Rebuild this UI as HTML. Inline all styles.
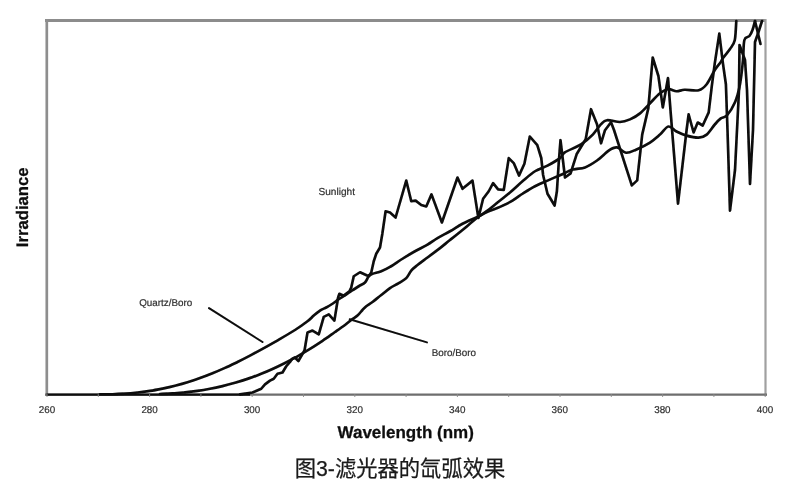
<!DOCTYPE html>
<html><head><meta charset="utf-8"><title>图3</title>
<style>
html,body{margin:0;padding:0;background:#fff;}
body{width:800px;height:496px;overflow:hidden;position:relative;font-family:"Liberation Sans","Noto Sans CJK SC",sans-serif;}
svg{position:absolute;left:0;top:0;}
.cap{position:absolute;left:0;width:800px;top:453.4px;text-align:center;font-size:21.3px;line-height:32px;color:#1a1a1a;-webkit-text-stroke:0.25px #1a1a1a;font-family:"Liberation Sans","Noto Sans CJK SC",sans-serif;}
</style></head><body>
<svg width="800" height="450" viewBox="0 0 800 450">
<defs><clipPath id="c"><rect x="46" y="19" width="721" height="378"/></clipPath>
<filter id="b" x="-5%" y="-5%" width="110%" height="110%"><feGaussianBlur stdDeviation="0.55"/></filter></defs>
<g filter="url(#b)">
<g fill="none">
<line x1="45" y1="20.5" x2="766" y2="20.5" stroke="#8c8c8c" stroke-width="3"/>
<line x1="46.8" y1="19" x2="46.8" y2="396" stroke="#8e8e8e" stroke-width="2.7"/>
<line x1="765.5" y1="19" x2="765.5" y2="396" stroke="#a0a0a0" stroke-width="2.2"/>
<line x1="45" y1="394.7" x2="767" y2="394.7" stroke="#6e6e6e" stroke-width="2.3"/>
<line x1="46.5" y1="394.6" x2="250" y2="394.6" stroke="#111" stroke-width="2.1"/>
<line x1="47.0" y1="394" x2="47.0" y2="397" stroke="#8a8a8a" stroke-width="0.9"/><line x1="98.3" y1="394" x2="98.3" y2="397" stroke="#8a8a8a" stroke-width="0.9"/><line x1="149.6" y1="394" x2="149.6" y2="397" stroke="#8a8a8a" stroke-width="0.9"/><line x1="200.9" y1="394" x2="200.9" y2="397" stroke="#8a8a8a" stroke-width="0.9"/><line x1="252.2" y1="394" x2="252.2" y2="397" stroke="#8a8a8a" stroke-width="0.9"/><line x1="303.5" y1="394" x2="303.5" y2="397" stroke="#8a8a8a" stroke-width="0.9"/><line x1="354.8" y1="394" x2="354.8" y2="397" stroke="#8a8a8a" stroke-width="0.9"/><line x1="406.1" y1="394" x2="406.1" y2="397" stroke="#8a8a8a" stroke-width="0.9"/><line x1="457.4" y1="394" x2="457.4" y2="397" stroke="#8a8a8a" stroke-width="0.9"/><line x1="508.7" y1="394" x2="508.7" y2="397" stroke="#8a8a8a" stroke-width="0.9"/><line x1="560.0" y1="394" x2="560.0" y2="397" stroke="#8a8a8a" stroke-width="0.9"/><line x1="611.3" y1="394" x2="611.3" y2="397" stroke="#8a8a8a" stroke-width="0.9"/><line x1="662.6" y1="394" x2="662.6" y2="397" stroke="#8a8a8a" stroke-width="0.9"/><line x1="713.9" y1="394" x2="713.9" y2="397" stroke="#8a8a8a" stroke-width="0.9"/><line x1="765.2" y1="394" x2="765.2" y2="397" stroke="#8a8a8a" stroke-width="0.9"/>
</g>
<g clip-path="url(#c)" fill="none" stroke="#0a0a0a" stroke-width="2.65" stroke-linejoin="round" stroke-linecap="round">
<path d="M100,394.212 C102.1,394.2 108.3,394.3 112.5,394.214 C116.7,394.1 120.8,393.9 125,393.664 C129.2,393.4 133.3,393.0 137.5,392.551 C141.7,392.1 145.8,391.5 150,390.859 C154.2,390.2 158.3,389.4 162.5,388.578 C166.7,387.7 170.8,386.8 175,385.695 C179.2,384.6 183.3,383.5 187.5,382.195 C191.7,380.9 195.8,379.6 200,378.068 C204.2,376.6 208.3,375.0 212.5,373.3 C216.7,371.6 220.8,369.8 225,367.909 C229.2,366.0 233.3,364.0 237.5,361.978 C241.7,359.9 245.8,357.8 250,355.603 C254.2,353.4 258.3,351.2 262.5,348.874 C266.7,346.6 269.6,345.0 275,341.887 C280.4,338.7 289.6,333.4 295,330 C300.4,326.6 304.4,323.6 307.5,321.25 C310.6,318.9 311.7,317.4 313.75,315.6 C315.8,313.8 317.9,312.0 320,310.6 C322.1,309.2 324.2,308.6 326.25,307.5 C328.3,306.4 330.4,305.1 332.5,303.75 C334.6,302.4 336.7,300.6 338.75,299.2 C340.8,297.8 343.1,296.6 345,295.4 C346.9,294.2 347.7,293.4 350,291.9 C352.3,290.4 356.2,287.8 358.75,286.25 C361.2,284.7 363.3,284.2 365,282.5 C366.7,280.8 367.5,277.7 368.75,276.25 C370.0,274.8 370.4,274.6 372.5,273.75 C374.6,272.9 378.3,272.4 381.25,271.25 C384.2,270.1 386.5,269.0 390,266.9 C393.5,264.8 398.3,261.4 402.5,258.75 C406.7,256.1 410.8,253.6 415,251.25 C419.2,248.9 423.8,246.8 427.5,244.6 C431.2,242.4 433.8,240.3 437.5,238.1 C441.2,235.9 445.8,233.6 450,231.25 C454.2,228.9 457.9,226.1 462.5,223.75 C467.1,221.4 473.3,218.9 477.5,216.9 C481.7,214.9 483.8,213.6 487.5,211.9 C491.2,210.2 495.8,208.8 500,206.9 C504.2,205.0 508.8,202.8 512.5,200.6 C516.2,198.4 518.8,196.1 522.5,193.75 C526.2,191.4 530.8,188.4 535,186.25 C539.2,184.1 543.3,182.4 547.5,180.6 C551.7,178.8 555.8,177.0 560,175.2 C564.2,173.4 568.8,170.9 573,169.6 C577.2,168.3 581.0,169.0 585,167.5 C589.0,166.0 593.0,163.3 597,160.5 C601.0,157.7 605.7,152.6 609,150.4 C612.3,148.2 614.2,147.0 617,147.4 C619.8,147.8 622.8,152.3 626,152.7 C629.2,153.1 632.0,151.4 636,149.7 C640.0,148.0 646.0,145.1 650,142.6 C654.0,140.1 656.9,137.3 660,134.6 C663.1,131.9 665.6,127.0 668.4,126.5 C671.1,126.0 673.5,130.0 676.5,131.5 C679.5,133.0 682.9,134.6 686.6,135.6 C690.3,136.6 695.4,137.8 698.7,137.6 C702.1,137.4 704.0,136.8 706.7,134.6 C709.4,132.4 712.4,127.2 714.8,124.5 C717.1,121.8 718.8,119.9 720.8,118.4 C722.8,116.9 724.5,118.1 726.9,115.4 C729.3,112.7 732.8,107.5 735,102.3 C737.2,97.1 738.7,91.2 740,84.2 C741.3,77.2 742.3,67.4 743,60 C743.7,52.6 743.3,44.0 744.4,40 C745.5,36.0 748.0,37.7 749.4,36 C750.8,34.3 751.6,32.5 752.5,30 C753.4,27.5 754.6,22.5 755,21"/>
<path d="M160,393.988 C162.1,393.9 168.3,393.7 172.5,393.441 C176.7,393.2 180.8,392.8 185,392.411 C189.2,392.0 193.3,391.5 197.5,390.865 C201.7,390.3 205.8,389.6 210,388.771 C214.2,388.0 218.3,387.1 222.5,386.097 C226.7,385.1 230.8,384.0 235,382.81 C239.2,381.6 243.3,380.3 247.5,378.878 C251.7,377.5 255.8,375.9 260,374.271 C264.2,372.6 268.3,370.9 272.5,368.974 C276.7,367.1 280.8,365.1 285,362.982 C289.2,360.9 293.3,358.6 297.5,356.295 C301.7,353.9 305.8,351.5 310,348.91 C314.2,346.3 318.3,343.6 322.5,340.823 C326.7,338.0 331.2,334.7 335,332.033 C338.8,329.4 342.3,327.0 345,325 C347.7,323.0 349.2,321.6 351.25,320 C353.3,318.4 355.6,317.3 357.5,315.6 C359.4,313.9 361.0,311.6 362.5,310 C364.0,308.4 364.6,307.6 366.25,306.25 C367.9,304.9 370.0,303.9 372.5,302 C375.0,300.1 378.3,297.3 381.25,295 C384.2,292.7 387.1,290.1 390,288.1 C392.9,286.1 396.0,284.8 398.75,283.1 C401.5,281.4 404.2,280.2 406.25,278.1 C408.3,276.0 409.4,272.8 411.25,270.6 C413.1,268.4 414.8,267.2 417.5,265 C420.2,262.8 423.8,260.3 427.5,257.5 C431.2,254.7 436.2,251.0 440,248.1 C443.8,245.2 446.2,243.0 450,240 C453.8,237.0 457.9,233.8 462.5,230 C467.1,226.2 473.3,220.7 477.5,217.5 C481.7,214.3 484.2,213.1 487.5,210.6 C490.8,208.1 493.8,205.5 497.5,202.5 C501.2,199.5 505.8,196.0 510,192.5 C514.2,189.0 518.3,184.8 522.5,181.25 C526.7,177.7 530.8,173.9 535,171.25 C539.2,168.6 543.3,167.8 547.5,165.6 C551.7,163.4 557.1,160.3 560,158.1 C562.9,155.9 561.3,154.7 564.8,152.4 C568.3,150.1 576.3,147.4 581,144.4 C585.7,141.4 589.7,137.7 593,134.3 C596.3,130.9 598.7,126.6 601,124.2 C603.3,121.8 603.8,120.6 607,120.2 C610.2,119.8 616.2,122.1 620,122 C623.8,121.9 626.7,120.8 630,119.4 C633.3,118.0 636.7,116.1 640,113.4 C643.3,110.7 646.7,106.7 650,103.3 C653.3,99.9 656.9,95.6 660,93.3 C663.1,91.0 665.6,89.5 668.4,89.2 C671.1,88.9 673.8,91.1 676.5,91.2 C679.2,91.3 680.9,90.0 684.6,89.8 C688.3,89.6 695.0,91.1 698.7,90.2 C702.4,89.3 704.0,87.6 706.7,84.2 C709.4,80.8 712.4,73.7 714.8,70 C717.1,66.3 719.4,64.0 720.8,62 C722.2,60.0 721.5,60.2 723,58 C724.5,55.8 728.0,52.0 730,49 C732.0,46.0 733.8,44.7 734.8,40 C735.8,35.3 736.0,24.2 736.3,21"/>
<path d="M240,394.4 L252.5,392.5 L261.25,388.75 L265,384.4 L270,380.6 L273.75,378.75 L277.5,373.75 L282.5,372.5 L286.25,366.25 L290,361.9 L292,358.9 L294.9,357.5 L298.4,361 L303.3,352.6 L304.6,350 L307.5,332.5 L312.5,330.6 L318.75,334.4 L323.75,316.9 L328.75,314.4 L334.4,320.6 L338.1,297.5 L339.4,293.75 L343.75,295.6 L349.4,291.25 L351.25,287.5 L353.75,276.25 L360,272.25 L368.75,276.25 L371.25,272.5 L373.75,261.25 L376.25,253.75 L380,247.5 L382.3,234 L385.6,211.25 L390,212.5 L395.6,217.5 L406.25,180.6 L411.25,201.25 L415.6,200.6 L421.25,205 L426.25,206.5 L431.5,194.4 L441.9,222.5 L457.5,177.5 L462.5,188.75 L472.5,180.6 L478.4,218 L483.1,198.75 L488.75,191.25 L493.1,183.1 L498.1,189.4 L503.75,190 L508.75,158.1 L513.75,163.1 L519,175.6 L524.4,163.75 L529.8,136.5 L537.3,145.2 L541.25,158 L543.1,175 L547.5,193.75 L554.6,205.5 L556.9,191.25 L558.75,162.5 L560.5,140.2 L565,177.5 L570.6,173.4 L576.6,154.3 L585.7,139.2 L591,109.2 L597,124.2 L601,143.3 L605,130.2 L611,122.2 L614,130 L631.8,185.4 L637.2,180.4 L642.2,134.6 L648.3,108.4 L652.7,57.5 L658.4,76 L662.8,107.4 L668,78 L670.5,110.4 L678,203.6 L686.6,130 L688.6,114.4 L693.6,132.5 L697.7,122.5 L702.7,125.5 L708.7,112.4 L711.8,86.2 L714.7,63.9 L719.3,33.6 L723,63.9 L725.9,84.2 L727.5,130 L730,210.6 L735,170 L737,130 L739,90 L739.5,45 L745,60 L747,90 L750,184 L753,130 L754.5,65 L755,42 L758.5,32 L762,21"/>
<path d="M755,21 L760.5,44"/>
<path d="M209,308.2 L262.5,342" stroke-width="2.05"/>
<path d="M349.7,319.2 L427,342.4" stroke-width="1.95"/>
</g>
<g font-family="'Liberation Sans',sans-serif" font-size="9.85" fill="#303030" stroke="#303030" stroke-width="0.2" text-rendering="geometricPrecision">
<text x="47.0" y="412.5" text-anchor="middle">260</text><text x="149.6" y="412.5" text-anchor="middle">280</text><text x="252.1" y="412.5" text-anchor="middle">300</text><text x="354.7" y="412.5" text-anchor="middle">320</text><text x="457.3" y="412.5" text-anchor="middle">340</text><text x="559.8" y="412.5" text-anchor="middle">360</text><text x="662.4" y="412.5" text-anchor="middle">380</text><text x="765.0" y="412.5" text-anchor="middle">400</text>
<text x="318.5" y="194.7" font-size="10.1">Sunlight</text>
<text x="139.2" y="305.6">Quartz/Boro</text>
<text x="431.7" y="355.8">Boro/Boro</text>
</g>
<g font-family="'Liberation Sans',sans-serif" font-weight="bold" font-size="17" fill="#0c0c0c" stroke="#0c0c0c" stroke-width="0.25" text-rendering="geometricPrecision">
<text x="405.7" y="438.4" text-anchor="middle">Wavelength (nm)</text>
<text transform="translate(27.5,207.3) rotate(-90)" text-anchor="middle" font-size="16.7">Irradiance</text>
</g>
</g>
</svg>
<div class="cap">图3-滤光器的氙弧效果</div>
</body></html>
